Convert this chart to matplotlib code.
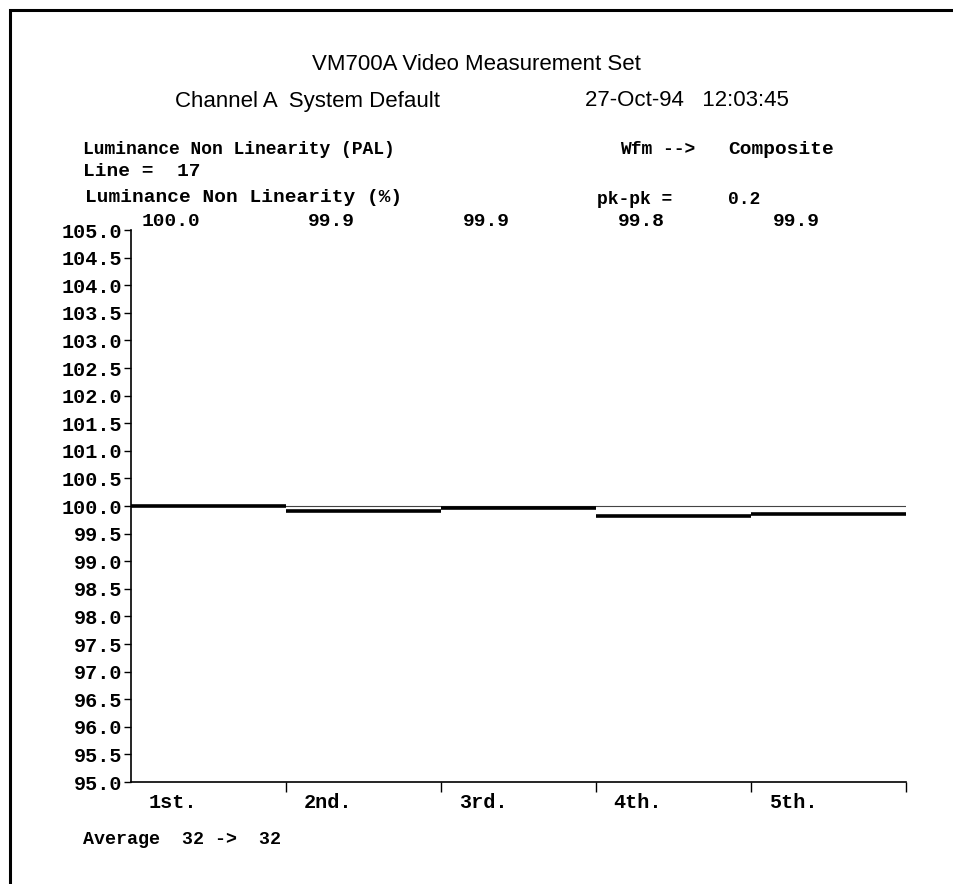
import matplotlib.pyplot as plt
from matplotlib.patches import Rectangle

# Data
segments = ["1st.", "2nd.", "3rd.", "4th.", "5th."]
readings = ["100.0", "99.9", "99.9", "99.8", "99.9"]
levels = [100.0, 99.91, 99.96, 99.82, 99.86]
reference = 100.0
y_ticks = [95.0, 95.5, 96.0, 96.5, 97.0, 97.5, 98.0, 98.5, 99.0, 99.5, 100.0,
           100.5, 101.0, 101.5, 102.0, 102.5, 103.0, 103.5, 104.0, 104.5, 105.0]

W, H = 954, 884
mono = "Liberation Mono"
sans = "Liberation Sans"

fig = plt.figure(figsize=(W / 100, H / 100), dpi=100)

def px(x, y):
    return x / W, 1 - y / H

# outer frame of the printout (runs off the right/bottom edge)
fig.patches.append(Rectangle((10 / W, -0.5), 1.2, 1 - 10 / H + 0.5,
                             transform=fig.transFigure,
                             fill=False, lw=2.2, ec="black"))

ax = fig.add_axes([131 / W, 1 - 782 / H, (906 - 131) / W, (782 - 230) / H])
n = len(segments)

# reference line and measured levels
ax.hlines(reference, 0, n, color="#444444", lw=0.8)
for i, v in enumerate(levels):
    ax.hlines(v, i, i + 1, color="black", lw=2.6)

ax.set_xlim(0, n)
ax.set_ylim(95, 105)
ax.set_yticks(y_ticks)
ax.set_yticklabels([f"{t:.1f}" for t in y_ticks], fontfamily=mono,
                   fontweight="bold", fontsize=14.5)
ax.set_xticks(range(1, n + 1))
ax.set_xticklabels([])
ax.tick_params(axis="y", direction="out", length=5, width=1, pad=1)
ax.tick_params(axis="x", direction="out", length=7, width=1)
for s in ["top", "right"]:
    ax.spines[s].set_visible(False)
for s in ["left", "bottom"]:
    ax.spines[s].set_linewidth(1.2)

# segment labels and readings
for i, (lab, r) in enumerate(zip(segments, readings)):
    ax.text(i + 0.427, 94.62, lab, ha="right", va="center", fontfamily=mono,
            fontweight="bold", fontsize=14.5)
    ax.text(i + 0.445, 105.15, r, ha="right", va="center", fontfamily=mono,
            fontweight="bold", fontsize=14)

# header text
def t(x, y, s, fam=mono, size=14, ha="left", weight="bold"):
    fig.text(*px(x, y), s, ha=ha, va="center", fontfamily=fam,
             fontsize=size, fontweight=weight)

t(476, 65, "VM700A Video Measurement Set", fam=sans, size=16, ha="center",
  weight="normal")
t(175, 101, "Channel A  System Default", fam=sans, size=16, weight="normal")
t(585, 101, "27-Oct-94   12:03:45", fam=sans, size=16, weight="normal")
t(83, 149, "Luminance Non Linearity (PAL)", size=13)
t(83, 171, "Line =  17")
t(85, 197, "Luminance Non Linearity (%)")
t(620, 150, "Wfm -->", size=13)
t(728, 150, "Composite", size=14)
t(597, 199, "pk-pk =", size=13)
t(728, 199, "0.2", size=13)
t(83, 840, "Average  32 ->  32", size=13.2)

fig.savefig("out.png", dpi=100)
